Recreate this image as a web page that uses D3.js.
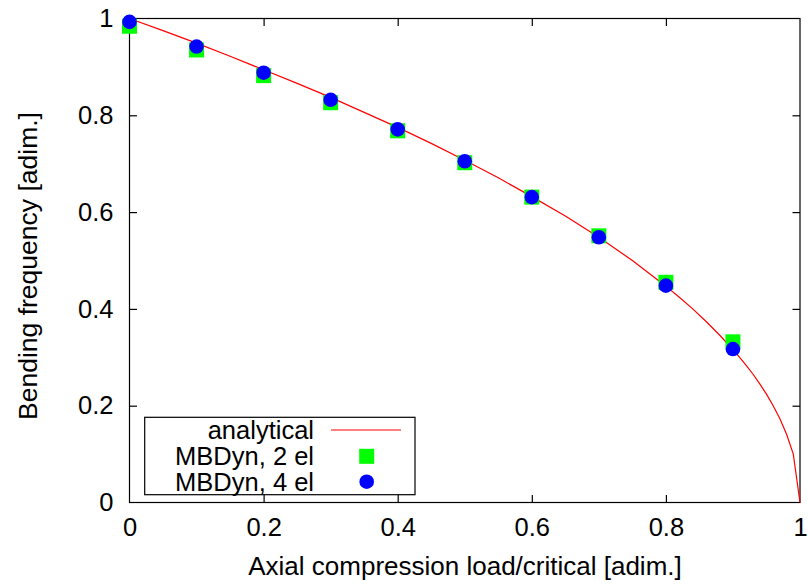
<!DOCTYPE html>
<html>
<head>
<meta charset="utf-8">
<script src="https://cdn.jsdelivr.net/npm/d3@7"></script>
<style>
  html, body { margin: 0; padding: 0; background: #fff; }
  svg { display: block; font-family: "Liberation Sans", Arial, sans-serif; }
</style>
</head>
<body>
<svg id="chart" width="809" height="588"></svg>
<script>
// ---- data ----
var tickValues = [0, 0.2, 0.4, 0.6, 0.8, 1];

// analytical curve, sampled points
var analyticalLoad = [0, 0.05, 0.1, 0.15, 0.2, 0.25, 0.3, 0.35, 0.4, 0.45, 0.5, 0.55, 0.6, 0.65, 0.7, 0.75,
  0.8, 0.82, 0.84, 0.86, 0.88, 0.9, 0.91, 0.92, 0.93, 0.94, 0.95, 0.96, 0.97, 0.98, 0.99, 1];
var analyticalFreq = [1, 0.975, 0.949, 0.922, 0.894, 0.866, 0.837, 0.806, 0.775, 0.742, 0.707, 0.671, 0.632, 0.592, 0.548, 0.5,
  0.447, 0.424, 0.4, 0.374, 0.346, 0.316, 0.3, 0.283, 0.265, 0.245, 0.224, 0.2, 0.173, 0.141, 0.1, 0];

// MBDyn results
var mbdynLoad = [0, 0.1, 0.2, 0.3, 0.4, 0.5, 0.6, 0.7, 0.8, 0.9];
var mbdyn2el = [0.984, 0.935, 0.882, 0.826, 0.768, 0.702, 0.631, 0.551, 0.455, 0.332];
var mbdyn4el = [0.993, 0.942, 0.888, 0.832, 0.771, 0.705, 0.631, 0.548, 0.448, 0.317];

var legendLabels = ["analytical", "MBDyn, 2 el", "MBDyn, 4 el"];

// ---- layout ----
var svg = d3.select("#chart");
var plotL = 129.5, plotR = 800, plotT = 18.5, plotB = 502.5;
var tickLen = 7.5;
var fontSize = 25.5;

var x = d3.scaleLinear().domain([0, 1]).range([plotL, plotR]);
var y = d3.scaleLinear().domain([0, 1]).range([plotB, plotT]);
var fmt = d3.format("~g");

// axes (ticks pointing inwards, mirrored like gnuplot)
function styleAxis(g) {
  g.attr("font-family", null).attr("font-size", null);
  g.select(".domain").remove();
  g.selectAll(".tick line").attr("stroke", "#000").attr("stroke-width", 1.2);
  g.selectAll(".tick text").attr("fill", "#000").style("font-size", fontSize + "px");
}

svg.append("g")
  .attr("transform", "translate(0," + plotB + ")")
  .call(d3.axisBottom(x).tickValues(tickValues).tickFormat(fmt).tickSizeInner(-tickLen).tickSizeOuter(0).tickPadding(15))
  .call(styleAxis);

svg.append("g")
  .attr("transform", "translate(0," + plotT + ")")
  .call(d3.axisTop(x).tickValues(tickValues.slice(1, -1)).tickFormat("").tickSizeInner(-tickLen).tickSizeOuter(0))
  .call(styleAxis);

svg.append("g")
  .attr("transform", "translate(" + plotL + ",0)")
  .call(d3.axisLeft(y).tickValues(tickValues).tickFormat(fmt).tickSizeInner(-tickLen).tickSizeOuter(0).tickPadding(16))
  .call(styleAxis);

svg.append("g")
  .attr("transform", "translate(" + plotR + ",0)")
  .call(d3.axisRight(y).tickValues(tickValues.slice(1, -1)).tickFormat("").tickSizeInner(-tickLen).tickSizeOuter(0))
  .call(styleAxis);

// remove tick marks that fall on the frame corners
svg.selectAll(".tick").filter(function (d) { return d === 0 || d === 1; }).select("line").remove();

// frame
svg.append("rect")
  .attr("x", plotL).attr("y", plotT)
  .attr("width", plotR - plotL).attr("height", plotB - plotT)
  .attr("fill", "none").attr("stroke", "#000").attr("stroke-width", 1.2);

// axis titles
svg.append("text")
  .attr("x", 465).attr("y", 574.5)
  .attr("text-anchor", "middle")
  .style("font-size", "26px")
  .text("Axial compression load/critical [adim.]");

svg.append("text")
  .attr("transform", "translate(36.5,266) rotate(-90)")
  .attr("text-anchor", "middle")
  .style("font-size", "26.5px")
  .text("Bending frequency [adim.]");

// analytical line
var line = d3.line()
  .x(function (d, i) { return x(analyticalLoad[i]); })
  .y(function (d) { return y(d); });

svg.append("path")
  .datum(analyticalFreq)
  .attr("d", line)
  .attr("fill", "none")
  .attr("stroke", "#ff0000")
  .attr("stroke-width", 1.2);

// MBDyn 2 el : green squares
var sq = 15;
svg.append("g").selectAll("rect")
  .data(mbdyn2el)
  .join("rect")
  .attr("x", function (d, i) { return x(mbdynLoad[i]) - sq / 2; })
  .attr("y", function (d) { return y(d) - sq / 2; })
  .attr("width", sq).attr("height", sq)
  .attr("fill", "#00ff00");

// MBDyn 4 el : blue circles
svg.append("g").selectAll("circle")
  .data(mbdyn4el)
  .join("circle")
  .attr("cx", function (d, i) { return x(mbdynLoad[i]); })
  .attr("cy", function (d) { return y(d); })
  .attr("r", 7.3)
  .attr("fill", "#0000ff");

// legend
var legend = svg.append("g");
legend.append("rect")
  .attr("x", 144.7).attr("y", 417.3)
  .attr("width", 415 - 144.7).attr("height", 494.7 - 417.3)
  .attr("fill", "none").attr("stroke", "#000").attr("stroke-width", 1.2);

var rowY = [430, 456.3, 481.7];
legend.selectAll("text")
  .data(legendLabels)
  .join("text")
  .attr("x", 314)
  .attr("y", function (d, i) { return rowY[i] + 9; })
  .attr("text-anchor", "end")
  .style("font-size", fontSize + "px")
  .text(function (d) { return d; });

legend.append("line")
  .attr("x1", 331).attr("x2", 401)
  .attr("y1", rowY[0]).attr("y2", rowY[0])
  .attr("stroke", "#ff0000").attr("stroke-width", 1.2);

legend.append("rect")
  .attr("x", 366.7 - sq / 2).attr("y", rowY[1] - sq / 2)
  .attr("width", sq).attr("height", sq)
  .attr("fill", "#00ff00");

legend.append("circle")
  .attr("cx", 366.7).attr("cy", rowY[2])
  .attr("r", 7.3)
  .attr("fill", "#0000ff");
</script>
</body>
</html>
